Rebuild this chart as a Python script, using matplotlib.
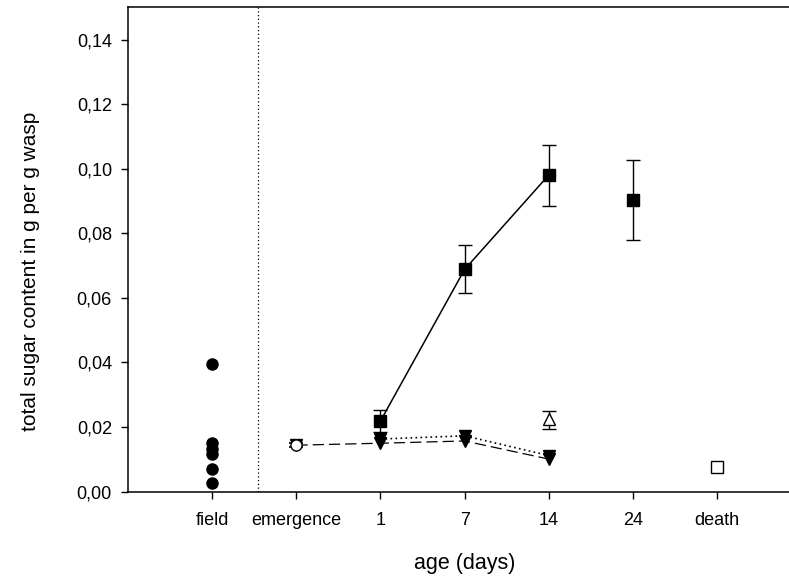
import matplotlib
matplotlib.use("Agg")
import matplotlib.pyplot as plt

plt.rcParams['font.family'] = ['Liberation Sans', 'DejaVu Sans']

categories = ["field", "emergence", "1", "7", "14", "24", "death"]
cat_pos = [1, 2, 3, 4, 5, 6, 7]

# field samples (individual wasps)
field_vals = [0.0395, 0.0152, 0.0133, 0.0116, 0.0069, 0.0028]

# emergence (open circle)
emerg_val = [0.0144]
emerg_err = [0.0007]

# filled squares: fed
sq_days = ["1", "7", "14"]
sq_vals = [0.0219, 0.0688, 0.0980]
sq_err_lo = [0.0035, 0.0072, 0.0095]
sq_err_hi = [0.0034, 0.0076, 0.0093]

sq24_val = [0.0903]
sq24_lo = [0.0124]
sq24_hi = [0.0124]

# open triangle at 14
tri_val = [0.0225]
tri_lo = [0.0032]
tri_hi = [0.0026]

# filled down-triangles, dashed series (from emergence)
dash_cats = ["emergence", "1", "7", "14"]
dash_vals = [0.0144, 0.0150, 0.0157, 0.0101]

# filled down-triangles, dotted series
dot_cats = ["1", "7", "14"]
dot_vals = [0.0163, 0.0173, 0.0112]

# death (open square)
death_val = [0.0077]
death_err = [0.0007]

pos = dict(zip(categories, cat_pos))

fig = plt.figure(figsize=(7.89, 5.76), dpi=100)
ax = fig.add_axes([0.1626, 0.1464, 0.8524, 0.841])

ax.axvline(1.54, color='black', linestyle=(0, (1, 2)), linewidth=0.9)

# field dots
ax.plot([pos["field"]] * len(field_vals), field_vals, 'o', color='black',
        markersize=8, linestyle='none', zorder=5)

# dotted series
ax.plot([pos[c] for c in dot_cats], dot_vals, linestyle=(0, (1, 2)),
        color='black', linewidth=1.2, marker='v', markersize=9,
        markerfacecolor='black', zorder=3)
# dashed series
ax.plot([pos[c] for c in dash_cats], dash_vals, linestyle=(0, (9, 4)),
        color='black', linewidth=0.9, marker='v', markersize=9,
        markerfacecolor='black', zorder=3)
# emergence circle
ax.errorbar([pos["emergence"]], emerg_val, yerr=emerg_err, fmt='o',
            color='black', markerfacecolor='white', markersize=8,
            capsize=5, elinewidth=1, capthick=1.2, zorder=6)

# squares with line
ax.errorbar([pos[c] for c in sq_days], sq_vals, yerr=[sq_err_lo, sq_err_hi],
            fmt='s-', color='black', markersize=8, linewidth=1.1,
            capsize=5, elinewidth=1, capthick=1, zorder=4)
ax.errorbar([pos["24"]], sq24_val, yerr=[sq24_lo, sq24_hi], fmt='s',
            color='black', markersize=8, capsize=5, elinewidth=1,
            capthick=1, zorder=4)

# open triangle
ax.errorbar([pos["14"]], tri_val, yerr=[tri_lo, tri_hi], fmt='^',
            color='black', markerfacecolor='white', markersize=8.5,
            capsize=5, elinewidth=1, capthick=1, zorder=4)

# death
ax.errorbar([pos["death"]], death_val, yerr=death_err, fmt='s',
            color='black', markerfacecolor='white', markersize=8,
            capsize=4, elinewidth=1, capthick=1.2, zorder=4)

ax.set_xlim(0, 8)
ax.set_ylim(0, 0.15)
ax.set_xticks(cat_pos)
ax.set_xticklabels(categories)
yt = [0.0, 0.02, 0.04, 0.06, 0.08, 0.10, 0.12, 0.14]
ax.set_yticks(yt)
ax.set_yticklabels([f"{v:.2f}".replace('.', ',') for v in yt])
ax.tick_params(direction='out', length=5.3, width=1, labelsize=13,
               colors='black', pad=6.5)
ax.tick_params(axis='x', pad=9)
for s in ax.spines.values():
    s.set_linewidth(1.1)

ax.set_xlabel("age (days)", fontsize=15.5)
ax.set_ylabel("total sugar content in g per g wasp", fontsize=15,
              va='center')
ax.yaxis.set_label_coords(-0.146, 0.455)
ax.xaxis.set_label_coords(0.5, -0.148)
ax.xaxis.label.set_va('center')

fig.savefig("out.png", dpi=100)
